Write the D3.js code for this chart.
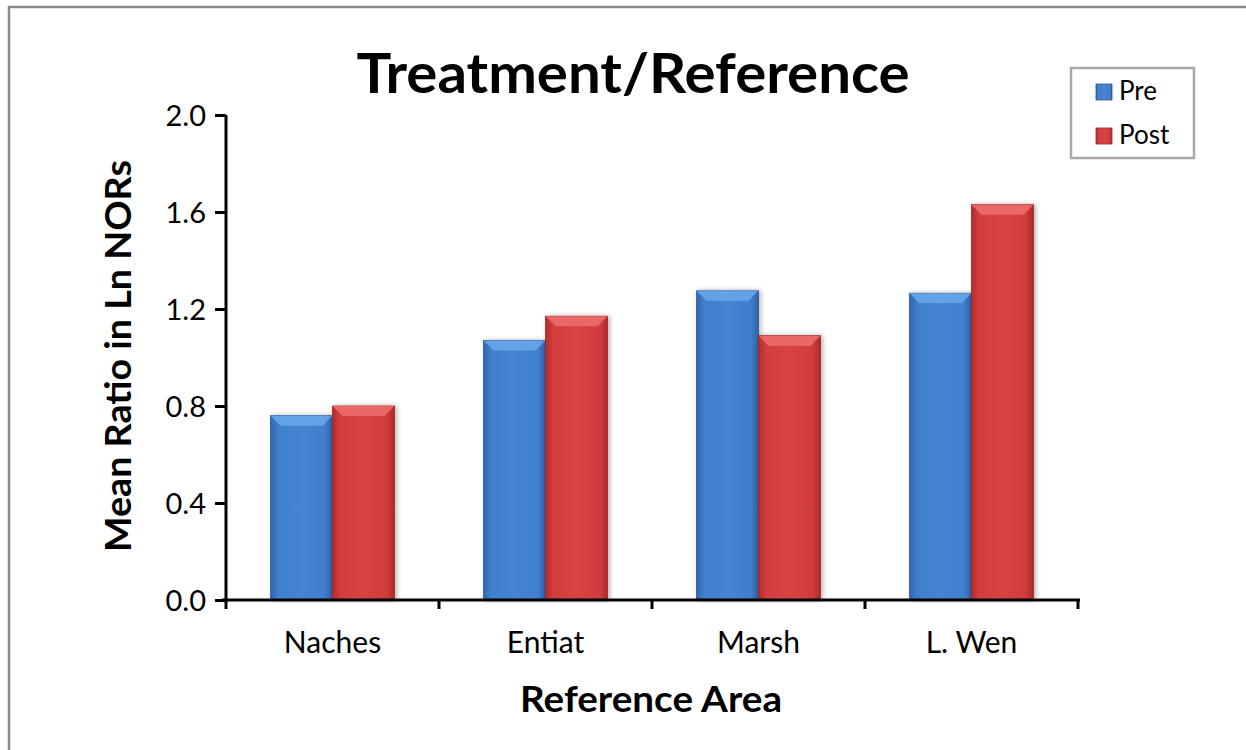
<!DOCTYPE html>
<html>
<head>
<meta charset="utf-8">
<script src="https://cdn.jsdelivr.net/npm/d3@7"></script>
<style>
  html, body { margin: 0; padding: 0; background: #fff; }
  svg { display: block; }
  text { font-family: Lato, "Open Sans", sans-serif; fill: #000; }
</style>
</head>
<body>
<svg id="chart" width="1246" height="750"></svg>
<script>
const categories = ["Naches", "Entiat", "Marsh", "L. Wen"];
const seriesNames = ["Pre", "Post"];
const preValues = [0.76, 1.07, 1.275, 1.265];
const postValues = [0.80, 1.17, 1.09, 1.63];
const yTicks = [0.0, 0.4, 0.8, 1.2, 1.6, 2.0];

const svg = d3.select("#chart");
const W = 1246, H = 750;
const plot = { left: 226, right: 1078, top: 115, bottom: 600 };

// outer frame
svg.append("rect").attr("x", 9).attr("y", 7).attr("width", W + 10).attr("height", H + 10)
  .attr("fill", "#fff").attr("stroke", "#8a8a8a").attr("stroke-width", 2.5);

const defs = svg.append("defs");
function makeGrad(id, stops) {
  const g = defs.append("linearGradient").attr("id", id).attr("x1", "0").attr("x2", "1").attr("y1", "0").attr("y2", "0");
  stops.forEach(s => g.append("stop").attr("offset", s[0]).attr("stop-color", s[1]));
}
makeGrad("gPre", [[0, "#2f66ad"], [0.12, "#3f7fcb"], [0.5, "#4585d2"], [0.88, "#3f7fcb"], [1, "#2d5fa3"]]);
makeGrad("gPost", [[0, "#b32c2c"], [0.12, "#d23c3c"], [0.5, "#d84444"], [0.88, "#d03b3b"], [1, "#a92a2a"]]);
const topCol = { Pre: "#6aa8ea", Post: "#ee6e6e" };
const sideDark = { Pre: "#2a5a99", Post: "#9c2525" };

const x0 = d3.scaleBand().domain(categories).range([plot.left, plot.right]).paddingInner(0.418).paddingOuter(0.209);
const x1 = d3.scaleBand().domain(seriesNames).range([0, x0.bandwidth()]);
const y = d3.scaleLinear().domain([0, 2]).range([plot.bottom, plot.top]);

const data = categories.map((c, i) => ({ cat: c, vals: [
  { s: "Pre", v: preValues[i] }, { s: "Post", v: postValues[i] } ] }));

// shadow filter
const f = defs.append("filter").attr("id", "sh").attr("x", "-20%").attr("y", "-10%").attr("width", "140%").attr("height", "120%");
f.append("feGaussianBlur").attr("in", "SourceAlpha").attr("stdDeviation", 2.5);
f.append("feOffset").attr("dx", 2).attr("dy", 0).attr("result", "b");
f.append("feComponentTransfer").append("feFuncA").attr("type", "linear").attr("slope", 0.3);
const fm = f.append("feMerge"); fm.append("feMergeNode"); fm.append("feMergeNode").attr("in", "SourceGraphic");

const groups = svg.append("g").selectAll("g").data(data).join("g")
  .attr("transform", d => `translate(${x0(d.cat)},0)`);

const bars = groups.selectAll("g.bar").data(d => d.vals).join("g").attr("class", "bar").attr("filter", "url(#sh)");
bars.append("rect")
  .attr("x", d => x1(d.s)).attr("y", d => y(d.v))
  .attr("width", x1.bandwidth()).attr("height", d => y(0) - y(d.v))
  .attr("fill", d => d.s === "Pre" ? "url(#gPre)" : "url(#gPost)")
  .attr("stroke", d => sideDark[d.s]).attr("stroke-width", 0.8);
// top bevel
const bev = 10;
bars.append("path")
  .attr("d", d => {
    const xa = x1(d.s), xb = xa + x1.bandwidth(), yt = y(d.v);
    return `M${xa},${yt}L${xb},${yt}L${xb - bev},${yt + bev}L${xa + bev},${yt + bev}Z`;
  })
  .attr("fill", d => topCol[d.s]).attr("opacity", 0.85);

// axes
const yAxis = svg.append("g").attr("transform", `translate(${plot.left},0)`)
  .call(d3.axisLeft(y).tickValues(yTicks).tickFormat(d3.format(".1f")).tickSize(11).tickPadding(9));
yAxis.select(".domain").attr("stroke", "#000").attr("stroke-width", 3).attr("d", `M0,${plot.top}V${plot.bottom}`);
yAxis.selectAll(".tick line").attr("stroke", "#000").attr("stroke-width", 3);
yAxis.selectAll(".tick text").attr("font-size", 29).attr("font-family", "Lato, sans-serif").attr("fill", "#000").attr("dy", "0.35em");

const xTickScale = d3.scalePoint().domain(d3.range(categories.length + 1)).range([plot.left, plot.right]);
const xAxisG = svg.append("g").attr("transform", `translate(0,${plot.bottom})`);
xAxisG.append("line").attr("x1", plot.left - 4).attr("x2", plot.right + 2).attr("y1", 0).attr("y2", 0)
  .attr("stroke", "#000").attr("stroke-width", 3);
xAxisG.selectAll("line.t").data(d3.range(categories.length + 1)).join("line").attr("class", "t")
  .attr("x1", d => xTickScale(d)).attr("x2", d => xTickScale(d)).attr("y1", 0).attr("y2", 9)
  .attr("stroke", "#000").attr("stroke-width", 3);
xAxisG.selectAll("text").data(categories).join("text")
  .attr("x", d => x0(d) + x0.bandwidth() / 2).attr("y", 53)
  .attr("text-anchor", "middle").attr("font-size", 30).text(d => d);

// titles
svg.append("text").attr("x", 633).attr("y", 93).attr("text-anchor", "middle")
  .attr("font-size", 55).attr("font-weight", "bold")
  .attr("textLength", 553).attr("lengthAdjust", "spacingAndGlyphs").text("Treatment/Reference");
svg.append("text").attr("x", 651).attr("y", 712).attr("text-anchor", "middle")
  .attr("font-size", 36).attr("font-weight", "bold")
  .attr("textLength", 262).attr("lengthAdjust", "spacingAndGlyphs").text("Reference Area");
svg.append("text").attr("transform", "translate(131,356) rotate(-90)").attr("text-anchor", "middle")
  .attr("font-size", 36).attr("font-weight", "bold")
  .attr("textLength", 392).attr("lengthAdjust", "spacingAndGlyphs").text("Mean Ratio in Ln NORs");

// legend
const lg = svg.append("g");
lg.append("rect").attr("x", 1071).attr("y", 68).attr("width", 123).attr("height", 90)
  .attr("fill", "#fff").attr("stroke", "#a8a8a8").attr("stroke-width", 2.5);
const li = lg.selectAll("g.li").data(seriesNames).join("g").attr("class", "li")
  .attr("transform", (d, i) => `translate(1096,${84 + i * 44})`);
li.append("rect").attr("width", 16).attr("height", 16)
  .attr("fill", d => d === "Pre" ? "url(#gPre)" : "url(#gPost)")
  .attr("stroke", d => sideDark[d]).attr("stroke-width", 0.8);
li.append("text").attr("x", 23).attr("y", 16).attr("font-size", 26).text(d => d);
</script>
</body>
</html>
